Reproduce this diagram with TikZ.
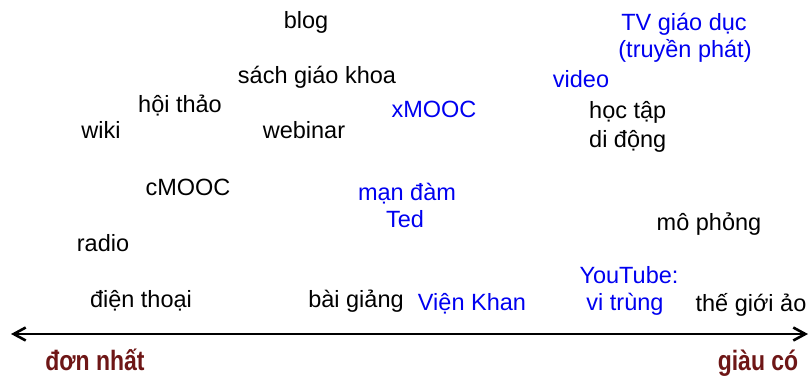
\documentclass[tikz,border=0pt]{standalone}
\usepackage{fontspec}
\setmainfont{Liberation Sans}
\usetikzlibrary{arrows.meta}
\definecolor{medblue}{RGB}{0,0,240}
\definecolor{endred}{RGB}{110,22,22}
\begin{document}
\begin{tikzpicture}[x=1pt,y=-1pt,
  item/.style={anchor=base,inner sep=0pt,font=\fontsize{23.5}{29}\selectfont,text=black},
  hot/.style={item,text=medblue},
  pole/.style={anchor=base,inner sep=0pt,text=endred,font=\fontsize{28}{32}\selectfont\bfseries},
  barb/.tip={Straight Barb[length=12pt,width=13pt]}]
\useasboundingbox (0,0) rectangle (811,376);
% media, placed by richness from left to right
\node[item] (blog) at (306,28) {blog};
\node[item] (sgk) at (317,83) {sách giáo khoa};
\node[item] (hoithao) at (180,112) {hội thảo};
\node[item] (wiki) at (101,138) {wiki};
\node[item] (webinar) at (304,138) {webinar};
\node[hot] (xmooc) at (434,117) {xMOOC};
\node[item] (cmooc) at (188,195) {cMOOC};
\node[hot] (mandam) at (407,200) {mạn đàm};
\node[hot] (ted) at (405,227) {Ted};
\node[item] (radio) at (103,251) {radio};
\node[item] (dienthoai) at (141,307) {điện thoại};
\node[item] (baigiang) at (356,307) {bài giảng};
\node[hot] (khan) at (472,310) {Viện Khan};
\node[hot] (youtube) at (629,283) {YouTube:};
\node[hot] (vitrung) at (625,310) {vi trùng};
\node[item] (thegioiao) at (751,311) {thế giới ảo};
\node[hot] (tv) at (684,30) {TV giáo dục};
\node[hot] (truyenphat) at (685,57) {(truyền phát)};
\node[hot] (video) at (581,87) {video};
\node[item,anchor=base west] (hoctap) at (589,118) {học tập};
\node[item,anchor=base west] (didong) at (589,147) {di động};
\node[item] (mophong) at (709,230) {mô phỏng};
% the scale
\coordinate (lo) at (11,334);
\coordinate (hi) at (808,334);
\draw[line width=2.6pt,barb-barb] (lo) -- (hi);
\node[pole] (don) at (95,370) {\scalebox{0.82}[1]{đơn nhất}};
\node[pole] (giau) at (758,370) {\scalebox{0.82}[1]{giàu có}};
\end{tikzpicture}
\end{document}
